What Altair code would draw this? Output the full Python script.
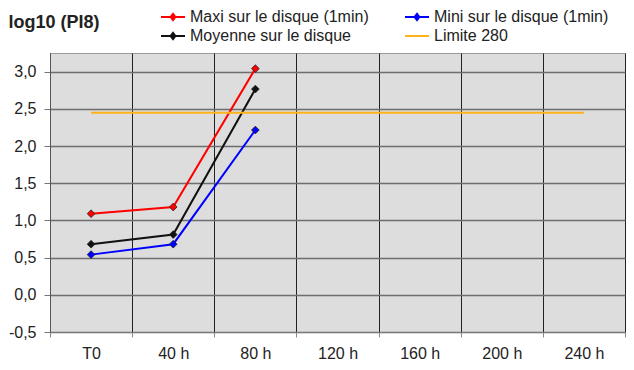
import altair as alt
import pandas as pd

categories = ["T0", "40 h", "80 h", "120 h", "160 h", "200 h", "240 h"]
series_names = ["Maxi sur le disque (1min)", "Moyenne sur le disque",
                "Mini sur le disque (1min)", "Limite 280"]
maxi = [1.09, 1.18, 3.04]
moyenne = [0.68, 0.81, 2.765]
mini = [0.54, 0.68, 2.215]
measure_cats = ["T0", "40 h", "80 h"]
limite = [2.447, 2.447]
limite_cats = ["T0", "240 h"]
colors = ["#ff0000", "#111111", "#0000ff", "#ffb31a"]
y_ticks = [-0.5, 0.0, 0.5, 1.0, 1.5, 2.0, 2.5, 3.0]

rows = []
for name, vals, cats in [(series_names[0], maxi, measure_cats),
                         (series_names[1], moyenne, measure_cats),
                         (series_names[2], mini, measure_cats),
                         (series_names[3], limite, limite_cats)]:
    for c, v in zip(cats, vals):
        rows.append({"cat": c, "value": v, "series": name})
df = pd.DataFrame(rows)

FONT = "Liberation Sans"
line_diamond = "M-1.5,0H1.5M0,-0.4L0.3,0L0,0.4L-0.3,0Z"
shapes = [line_diamond, line_diamond, line_diamond, "M-1.5,0H1.5"]

x_enc = alt.X("cat:N", sort=categories,
              scale=alt.Scale(type="band", domain=categories, paddingInner=0, paddingOuter=0),
              axis=alt.Axis(title=None, labelAngle=0, tickBand="extent", grid=True,
                            gridColor="#222222", gridWidth=1, tickSize=5, tickColor="#888888",
                            labelFontSize=16, labelFont=FONT, labelColor="#222222",
                            labelPadding=8, domainColor="#777777"))
y_enc = alt.Y("value:Q",
              scale=alt.Scale(domain=[-0.5, 3.25], nice=False, zero=False),
              axis=alt.Axis(values=y_ticks,
                            labelExpr="(datum.value < 0 ? '-' : '') + replace(format(abs(datum.value), '.1f'), '.', ',')",
                            labelFontSize=16, labelFont=FONT, labelColor="#222222",
                            tickSize=6, tickColor="#777777", labelPadding=8,
                            domainColor="#555555", gridColor="#6e6e6e", gridWidth=1.3,
                            title="log10 (PI8)", titleAngle=0, titleX=-42, titleY=-31,
                            titleAlign="left", titleBaseline="middle", titleFontSize=18,
                            titleFontWeight="bold", titleFont=FONT, titleColor="#222222"))

legend = alt.Legend(title=None, orient="none", legendX=114, legendY=-45, columns=2,
                    columnPadding=32, rowPadding=2, labelFontSize=16, labelFont=FONT,
                    labelColor="#222222", symbolSize=256, symbolStrokeWidth=2,
                    symbolOpacity=1, labelOffset=8, padding=0, labelLimit=400)

color_enc = alt.Color("series:N", scale=alt.Scale(domain=series_names, range=colors),
                      legend=legend)

lines = alt.Chart(df).mark_line(strokeWidth=2).encode(
    x=x_enc, y=y_enc, color=color_enc, detail="series:N")

carrier = alt.Chart(df).mark_point(filled=False, strokeWidth=2, opacity=0).encode(
    x=x_enc, y=y_enc, color=color_enc,
    shape=alt.Shape("series:N", scale=alt.Scale(domain=series_names, range=shapes),
                    legend=legend))

markers = alt.Chart(df).transform_filter(
    alt.datum.series != series_names[3]
).mark_point(shape="diamond", filled=True, size=60, stroke="#222222",
             strokeWidth=0.8, opacity=1).encode(
    x=x_enc, y=y_enc,
    fill=alt.Fill("series:N", scale=alt.Scale(domain=series_names, range=colors),
                  legend=None))

chart = alt.layer(lines, carrier, markers).properties(
    width=575, height=279,
    padding={"left": 0, "top": 0, "right": 0, "bottom": 0},
    background="white"
).configure_view(fill="#dddddd", stroke="#9a9a9a")

chart.save("out.html", embed_options={"renderer": "svg", "actions": False})
